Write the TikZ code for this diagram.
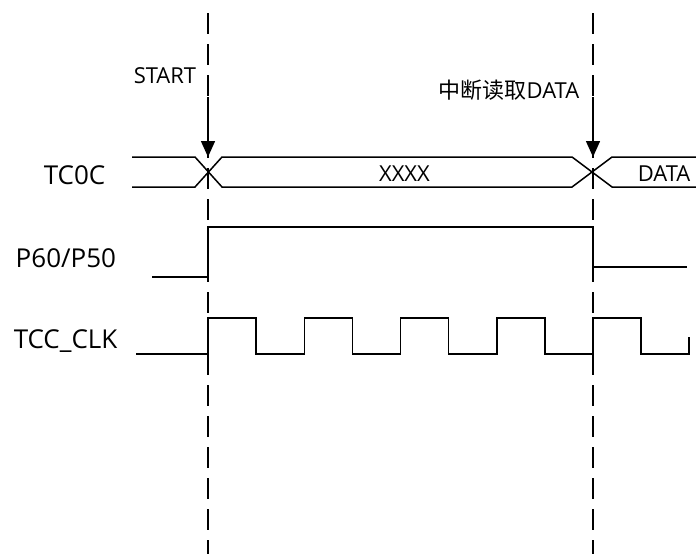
\documentclass[tikz,border=0pt]{standalone}
\usepackage{fontspec}
\setmainfont{Open Sans}
\newfontfamily\cjk{Noto Sans CJK SC}
\usetikzlibrary{arrows.meta}
\tikzset{
	siglabel/.style={font=\fontsize{26}{30}\selectfont, inner sep=0pt, anchor=base west},
	txt/.style={font=\fontsize{22}{26}\selectfont, inner sep=0pt},
	dashline/.style={dash pattern=on 21pt off 10pt, line width=1.5pt}
}
\begin{document}
\begin{tikzpicture}[x=1pt, y=-1pt, line width=1.5pt, >={Triangle[length=16pt,width=14pt]}]
			\useasboundingbox (0,0) rectangle (696,554);
			\def\clkper[#1](#2){
				\path[#1, line cap=rect](#2,354)--(#2,318)--(#2+48.125,318)--(#2+48.125,354)--(#2+96.25,354);}
			% labels
			\node[siglabel] (tc0c) at (43,184) {TC0C};
			\node[siglabel] (p60) at (15,267) {P60/P50};
			\node[siglabel] (clk) at (13,348) {TCC\_CLK};
			\node[txt, anchor=base west] (start) at (133,83) {START};
			\node[txt, anchor=base east] (rdata) at (580,98) {{\cjk 中断读取}DATA};
			\node[txt, anchor=base] (xxxx) at (404.5,181) {XXXX};
			\node[txt, anchor=base west] (data) at (637,181) {DATA};
			% dashed markers
			\draw[dashline] (208,13) -- (208,554);
			\draw[dashline] (593,13) -- (593,554);
			\coordinate (a0) at (208,97);
			\coordinate (b0) at (208,157);
			\coordinate (a1) at (593,97);
			\coordinate (b1) at (593,157);
			\draw[->] (a0) -- (b0);
			\draw[->] (a1) -- (b1);
			% TC0C bus
			\draw (132,157) -- (195,157) -- (222,187) -- (572,187) -- (612,157) -- (696,157);
			\draw (132,187) -- (195,187) -- (222,157) -- (572,157) -- (612,187) -- (696,187);
			% P60/P50
			\draw (152,277) -- (208,277) -- (208,227) -- (593,227) -- (593,267) -- (687,267);
			% TCC_CLK
			\draw[line cap=rect] (137,354) -- (208,354);
			\foreach \k in {0,...,4}{\clkper[draw](208+96.25*\k)}
			\draw (689,354) -- (689,337);
		\end{tikzpicture}
\end{document}
